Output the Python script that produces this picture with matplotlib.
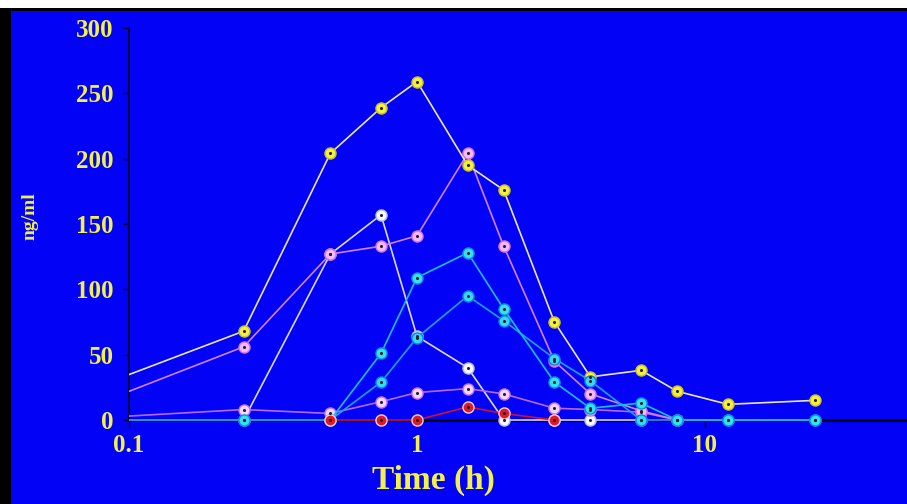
import numpy as np
import matplotlib
matplotlib.use("Agg")
import matplotlib.pyplot as plt
from matplotlib.patches import Rectangle
from matplotlib.transforms import Bbox, TransformedBbox

nan = np.nan
time_h = [0.083, 0.25, 0.5, 0.75, 1, 1.5, 2, 3, 4, 6, 8, 12, 24]

yellow_vals = [28, 68, 204, 239, 259, 195, 176, 75, 33, 38, 22, 12, 15]
pink_vals = [15, 56, 127, 133, 141, 204, 133, 45, 20, 7, 0, nan, nan]
lowmag_vals = [2, 8, 5, 14, 21, 24, 20, 9, 8, 6, 0, nan, nan]
white_vals = [nan, 0, 127, 157, 64, 40, 0, 0, 0, 0, nan, nan, nan]
cyanA_vals = [0, 0, 0, 51, 109, 128, 85, 29, 9, 13, 0, 0, 0]
cyanB_vals = [nan, nan, 0, 29, 63, 95, 76, 47, 30, 0, 0, 0, 0]
red_vals = [nan, nan, 0, 0, 0, 10, 5, 0, nan, nan, nan, nan, nan]

y_ticks = [0, 50, 100, 150, 200, 250, 300]
x_ticks = [0.1, 1, 10]
x_ticklabels = ["0.1", "1", "10"]

W, H = 907, 504
fig = plt.figure(figsize=(W / 100, H / 100), dpi=100)
fig.patch.set_facecolor("white")
BLUE = "#0202F6"
YEL = "#F2F04A"
fig.patches.append(Rectangle((0, 0), 1, (H - 8) / H, transform=fig.transFigure,
                             facecolor="black", edgecolor="none", zorder=-3))
fig.patches.append(Rectangle((11 / W, 0), 1, (H - 11) / H, transform=fig.transFigure,
                             facecolor=BLUE, edgecolor="none", zorder=-2))

left = 129 / W
bottom = (H - 420) / H
height = (420 - 28) / H
ax = fig.add_axes([left, bottom, 1 - left, height])
ax.set_facecolor("none")
ax.set_xscale("log")
xmax = 10 ** (-1 + (W - 129) / 288)
ax.set_xlim(0.1, xmax)
ax.set_ylim(0, 300)

series = [
    (white_vals, "#D8D8F2", "#F6F6FF", "#B8B8E0"),
    (lowmag_vals, "#B468F4", "#F4D4F6", "#C070E8"),
    (pink_vals, "#D080F8", "#F4B8F4", "#D070E0"),
    (yellow_vals, "#E8E6B8", "#F4F040", "#C8C020"),
    (cyanB_vals, "#1AA0F4", "#36D8F4", "#0A80E8"),
    (cyanA_vals, "#18C0EE", "#36E0F0", "#0A90E0"),
    (red_vals, "#D01030", "#E01828", "#F0D0D0"),
]

clipbox = TransformedBbox(Bbox([[0, -0.06], [1.0, 1.05]]), ax.transAxes)
for vals, lc, fc, ec in series:
    ln, = ax.plot(time_h, vals, color=lc, lw=1.2, marker="o", ms=8,
                  mfc=fc, mec=ec, mew=1.0, zorder=3)
    ln.set_clip_box(clipbox)
    dots, = ax.plot(time_h, vals, ls="none", marker="o", ms=2.2,
                    mfc="#202020", mec="none", zorder=4)
    dots.set_clip_box(clipbox)

for s in ["top", "right"]:
    ax.spines[s].set_visible(False)
ax.spines["left"].set_color("#000040")
ax.spines["left"].set_linewidth(1.5)
ax.spines["bottom"].set_color("#000000")
ax.spines["bottom"].set_linewidth(2)
ax.spines["bottom"].set_zorder(2)

ax.set_yticks(y_ticks)
ax.set_yticklabels([str(v) for v in y_ticks])
ax.set_xticks(x_ticks)
ax.set_xticklabels(x_ticklabels)
ax.xaxis.set_minor_locator(matplotlib.ticker.NullLocator())
ax.tick_params(axis="y", direction="out", length=4, width=1, color="#000040",
               pad=7, labelsize=18, labelcolor=YEL)
ax.tick_params(axis="x", direction="out", length=5, width=1, color="#000000",
               pad=5, labelsize=18, labelcolor=YEL)
for lab in ax.get_xticklabels() + ax.get_yticklabels():
    lab.set_fontfamily("Liberation Serif")
    lab.set_fontweight("bold")

fig.text(433 / W, 1 - 480 / H, "Time (h)", color=YEL, fontsize=24,
         fontfamily="Liberation Serif", fontweight="bold", ha="center", va="center")
fig.text(30 / W, 1 - 216 / H, "ng/ml", color=YEL, fontsize=14, rotation=90,
         fontfamily="Liberation Serif", fontweight="bold", ha="center", va="center")

fig.savefig("out.png", dpi=100, facecolor=fig.get_facecolor())
